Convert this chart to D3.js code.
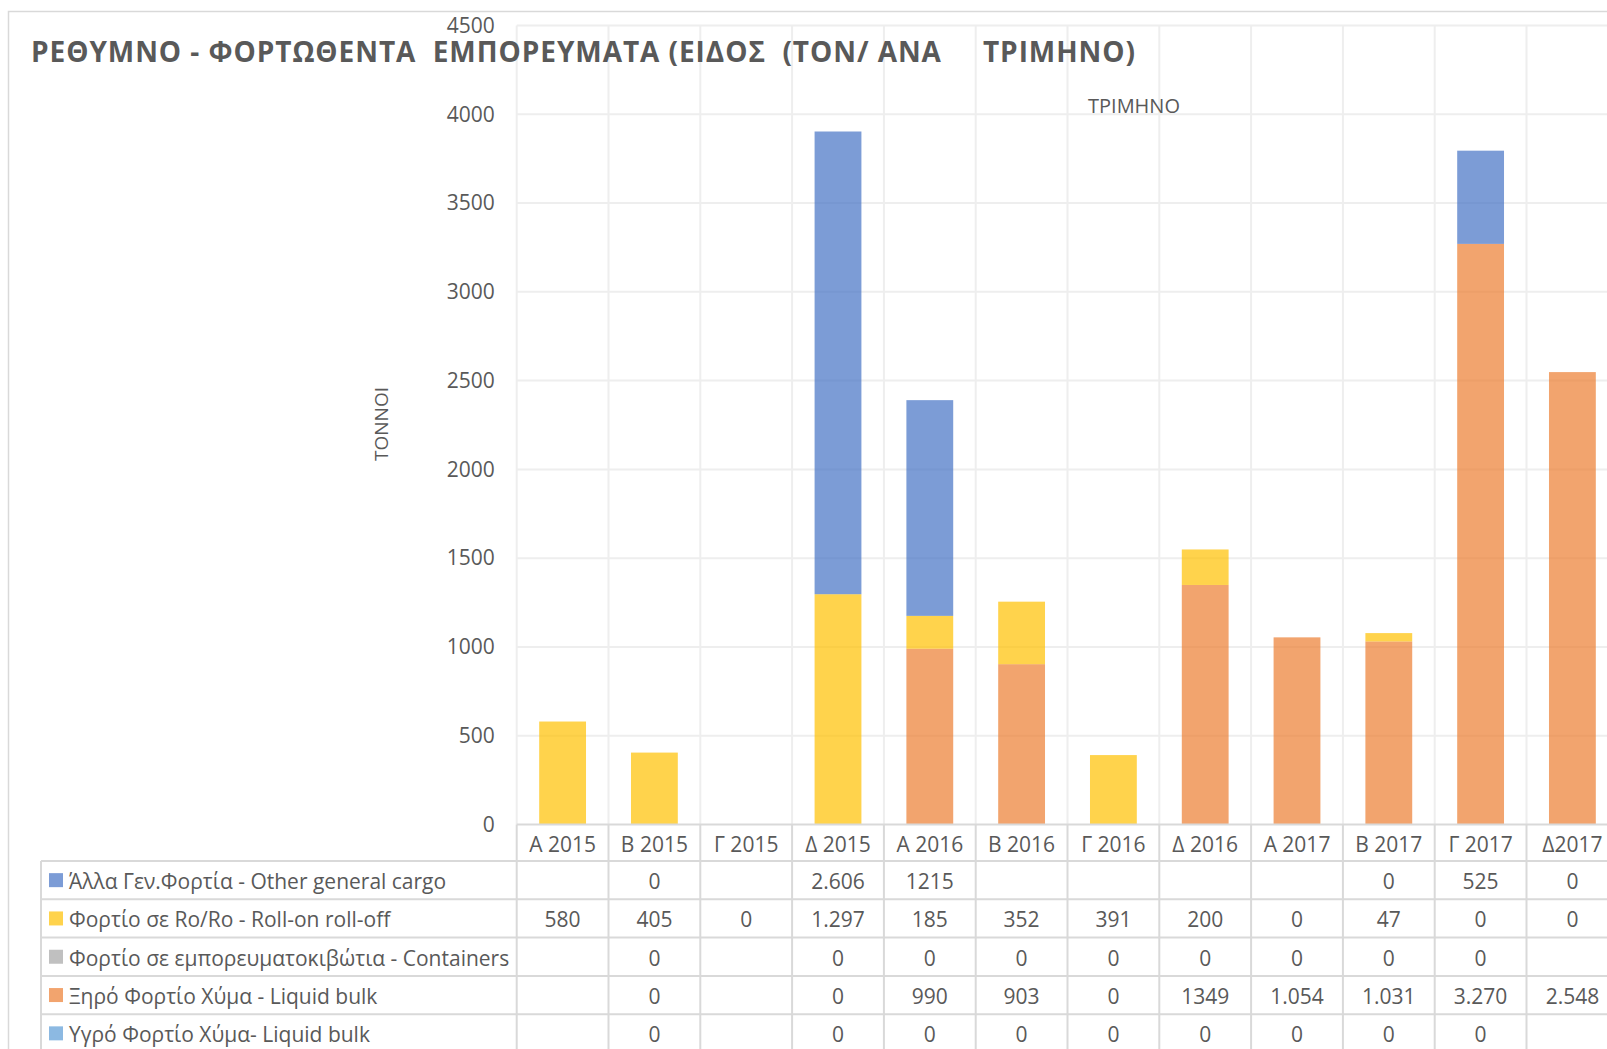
<!DOCTYPE html>
<html>
<head>
<meta charset="utf-8">
<script src="https://cdn.jsdelivr.net/npm/d3@7"></script>
<style>
  html, body { margin: 0; padding: 0; background: #fff; }
  svg { display: block; }
  text { font-family: "Open Sans", "Noto Sans", sans-serif; fill: #595959; }
</style>
</head>
<body>
<svg id="chart" width="1607" height="1049"></svg>
<script>
// Quarters shown along the x axis
const categories = ["Α 2015", "Β 2015", "Γ 2015", "Δ 2015", "Α 2016", "Β 2016",
                    "Γ 2016", "Δ 2016", "Α 2017", "Β 2017", "Γ 2017", "Δ2017"];

// Data table cells, exactly as printed (blank = no entry, "." = thousands separator)
const otherCargoLabels  = ["", "0", "", "2.606", "1215", "", "", "", "", "0", "525", "0"];
const roroLabels        = ["580", "405", "0", "1.297", "185", "352", "391", "200", "0", "47", "0", "0"];
const containerLabels   = ["", "0", "", "0", "0", "0", "0", "0", "0", "0", "0", ""];
const dryBulkLabels     = ["", "0", "", "0", "990", "903", "0", "1349", "1.054", "1.031", "3.270", "2.548"];
const liquidBulkLabels  = ["", "0", "", "0", "0", "0", "0", "0", "0", "0", "0", ""];

const seriesNames = {
  other: "Άλλα Γεν.Φορτία - Other general cargo",
  roro: "Φορτίο σε Ro/Ro - Roll-on roll-off",
  containers: "Φορτίο σε εμπορευματοκιβώτια - Containers",
  dry: "Ξηρό Φορτίο Χύμα - Liquid bulk",
  liquid: "Υγρό Φορτίο Χύμα- Liquid bulk"
};
const yTicks = [0, 500, 1000, 1500, 2000, 2500, 3000, 3500, 4000, 4500];

const titleText = "ΡΕΘΥΜΝΟ - ΦΟΡΤΩΘΕΝΤΑ  ΕΜΠΟΡΕΥΜΑΤΑ (ΕΙΔΟΣ  (ΤΟΝ/ ΑΝΑ     ΤΡΙΜΗΝΟ)";

const colors = {
  other: "#4472C4", roro: "#FFC000", containers: "#A5A5A5", dry: "#ED7D31", liquid: "#5B9BD5"
};

const labelsByKey = {
  other: otherCargoLabels, roro: roroLabels, containers: containerLabels,
  dry: dryBulkLabels, liquid: liquidBulkLabels
};
const toValue = s => s === "" ? 0 : +s.replace(/\./g, "");

// stacking order, bottom to top
const stackKeys = ["liquid", "dry", "containers", "roro", "other"];
// data-table row order, top to bottom
const tableKeys = ["other", "roro", "containers", "dry", "liquid"];

const rows = categories.map((c, i) => {
  const r = { category: c };
  stackKeys.forEach(k => r[k] = toValue(labelsByKey[k][i]));
  return r;
});

const svg = d3.select("#chart");
const W = 1607, H = 1049;

const plot = { left: 516.7, top: 25.5, bottom: 824.5, step: 91.8 };
const x = d3.scaleBand()
  .domain(categories)
  .range([plot.left, plot.left + plot.step * categories.length])
  .paddingInner(0.49)
  .paddingOuter(0.245);
const y = d3.scaleLinear().domain([0, 4500]).range([plot.bottom, plot.top]);

// outer frame
svg.append("rect").attr("x", 8.5).attr("y", 11.5).attr("width", W).attr("height", H)
  .attr("fill", "none").attr("stroke", "#d9d9d9").attr("stroke-width", 1.5);

// horizontal gridlines
svg.append("g").selectAll("line").data(yTicks.slice(1)).join("line")
  .attr("x1", plot.left).attr("x2", W)
  .attr("y1", d => y(d)).attr("y2", d => y(d))
  .attr("stroke", "#eeeeee").attr("stroke-width", 2);

// vertical band boundaries (plot area)
const bounds = d3.range(categories.length + 1).map(i => plot.left + i * x.step());
svg.append("g").selectAll("line").data(bounds).join("line")
  .attr("x1", d => d).attr("x2", d => d)
  .attr("y1", plot.top).attr("y2", plot.bottom)
  .attr("stroke", "#eeeeee").attr("stroke-width", 2);

// stacked columns
const stacked = d3.stack().keys(stackKeys)(rows);
svg.append("g").selectAll("g").data(stacked).join("g")
  .attr("fill", d => colors[d.key]).attr("fill-opacity", 0.7)
  .selectAll("rect").data(d => d).join("rect")
  .attr("x", d => x(d.data.category))
  .attr("width", x.bandwidth())
  .attr("y", d => y(d[1]))
  .attr("height", d => y(d[0]) - y(d[1]));

// y axis labels
const yAxis = d3.axisLeft(y).tickValues(yTicks).tickFormat(d3.format("d"))
  .tickSize(0).tickPadding(22);
const yg = svg.append("g").attr("transform", `translate(${plot.left},0)`).call(yAxis);
yg.select(".domain").remove();
yg.selectAll("text").style("font-size", "21px").attr("fill", "#595959")
  .style("font-family", "'Open Sans', sans-serif");

// data table geometry
const rowH = 38.3;
const tableTop = 861;
const tableLeft = 41;
const lineColor = "#d9d9d9";

// x axis line and table lines
svg.append("line").attr("x1", plot.left).attr("x2", W).attr("y1", plot.bottom).attr("y2", plot.bottom)
  .attr("stroke", lineColor).attr("stroke-width", 2);
svg.append("g").selectAll("line").data(d3.range(tableKeys.length + 1)).join("line")
  .attr("x1", tableLeft).attr("x2", W)
  .attr("y1", i => tableTop + i * rowH).attr("y2", i => tableTop + i * rowH)
  .attr("stroke", lineColor).attr("stroke-width", 2);
svg.append("line").attr("x1", tableLeft).attr("x2", tableLeft).attr("y1", tableTop).attr("y2", H)
  .attr("stroke", lineColor).attr("stroke-width", 2);
svg.append("g").selectAll("line").data(bounds).join("line")
  .attr("x1", d => d).attr("x2", d => d)
  .attr("y1", plot.bottom).attr("y2", H)
  .attr("stroke", lineColor).attr("stroke-width", 2);

// category labels row
const xAxis = d3.axisBottom(x).tickSize(0).tickPadding(0);
const xg = svg.append("g").attr("transform", `translate(0,${plot.bottom})`).call(xAxis);
xg.select(".domain").remove();
xg.selectAll("text").attr("dy", null).attr("y", (tableTop - plot.bottom) / 2 + 1)
  .attr("dominant-baseline", "central")
  .style("font-size", "21px").attr("fill", "#595959")
  .style("font-family", "'Open Sans', sans-serif");

// table rows: legend key, series name, values
tableKeys.forEach((k, r) => {
  const cy = tableTop + r * rowH + rowH / 2 + 1;
  svg.append("rect").attr("x", 49).attr("y", cy - 8).attr("width", 14).attr("height", 14)
    .attr("fill", colors[k]).attr("fill-opacity", 0.7);
  svg.append("text").attr("x", 69).attr("y", cy).attr("dominant-baseline", "central")
    .style("font-size", "21px").text(seriesNames[k]);
  svg.append("g").selectAll("text").data(labelsByKey[k]).join("text")
    .attr("x", (d, i) => x(categories[i]) + x.bandwidth() / 2)
    .attr("y", cy).attr("text-anchor", "middle").attr("dominant-baseline", "central")
    .style("font-size", "21px").text(d => d);
});

// axis titles
svg.append("text").attr("x", 1134).attr("y", 113).attr("text-anchor", "middle")
  .style("font-size", "20px").text("ΤΡΙΜΗΝΟ");
svg.append("text").attr("transform", "translate(381,424) rotate(-90)")
  .attr("text-anchor", "middle").attr("dominant-baseline", "central")
  .style("font-size", "19px").text("ΤΟΝΝΟΙ");

// chart title
const title = svg.append("text").attr("x", 31).attr("y", 62)
  .style("font-size", "28px").style("font-weight", "bold").style("white-space", "pre")
  .attr("fill", "#595959").text(titleText);
const targetWidth = 1104;
const w = title.node().getComputedTextLength();
if (Math.abs(w - targetWidth) > 2) {
  title.attr("textLength", targetWidth).attr("lengthAdjust", "spacing");
}
</script>
</body>
</html>
